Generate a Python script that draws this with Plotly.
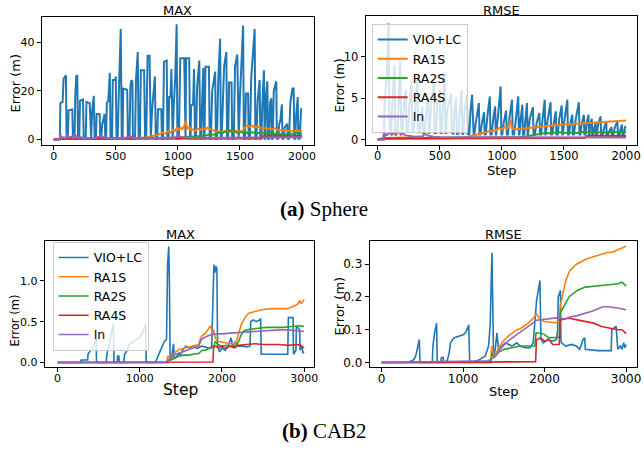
import plotly.graph_objects as go

# ---------------- data: (step, error) pairs ----------------
series_names = ["VIO+LC", "RA1S", "RA2S", "RA4S", "In"]
series_colors = ["#1f77b4", "#ff7f0e", "#2ca02c", "#d62728", "#9467bd"]

sphere_max_vio = [
    (0, 0), (50, 0), (54, 15), (72, 15.5), (80, 25), (99, 26.5), (104, 0.3),
    (114, 0.3), (120, 12), (150, 12.4), (155, 0.3),
    (168, 0.3), (174, 18), (182, 26), (190, 26.5), (196, 0.3),
    (206, 0.3), (212, 16), (236, 16.5), (242, 0.3),
    (258, 0.3), (264, 15.5), (290, 15), (297, 0.3),
    (302, 0.3), (310, 12), (323, 18), (330, 0.3),
    (340, 0.3), (346, 10.5), (370, 10.5), (375, 0.3),
    (382, 0.3), (390, 6), (410, 10.5), (416, 0.3),
    (422, 0.3), (428, 15), (440, 16), (452, 27.5), (458, 0.3),
    (470, 0.3), (476, 24.5), (495, 24.5), (500, 26), (506, 0.3),
    (515, 0.3), (525, 20), (540, 45.5), (548, 0.3),
    (555, 0.3), (560, 21), (592, 20.5), (598, 0.3),
    (610, 0.3), (618, 22), (626, 24.5), (634, 24), (638, 0.3),
    (655, 0.3), (663, 25), (677, 36), (684, 0.3),
    (694, 0.3), (702, 28.5), (728, 28.5), (736, 0.3),
    (745, 0.3), (752, 30), (756, 34.5), (772, 34.5), (777, 0.3),
    (782, 0.3), (792, 12), (815, 26), (822, 0.3),
    (834, 0.3), (840, 12.5), (866, 12.5), (872, 0.3),
    (880, 0.3), (888, 32), (910, 32.5), (916, 0.3),
    (924, 0.3), (930, 17.5), (940, 17.5), (948, 29), (953, 0.3),
    (958, 0.3), (966, 13), (978, 25), (990, 47.5), (996, 0.3),
    (1008, 0.3), (1019, 33.5), (1051, 33.5), (1058, 0.3),
    (1062, 0.3), (1066, 33.5), (1091, 33.5), (1098, 0.3),
    (1102, 0.3), (1106, 14), (1122, 14.3), (1130, 29), (1138, 0.3),
    (1146, 0.3), (1155, 22), (1165, 28), (1172, 32.5), (1180, 0.3),
    (1188, 0.3), (1196, 18), (1205, 29.5), (1210, 0.3),
    (1214, 0.3), (1222, 30), (1250, 30), (1256, 0.3),
    (1266, 0.3), (1276, 20), (1300, 28), (1306, 0.3),
    (1315, 0.3), (1325, 25), (1340, 41.5), (1346, 0.3),
    (1352, 0.3), (1362, 15), (1372, 30), (1390, 36), (1396, 0.3),
    (1405, 0.3), (1412, 23.5), (1432, 23.5), (1437, 0.3),
    (1450, 0.3), (1460, 30), (1478, 35), (1484, 0.3),
    (1490, 0.3), (1500, 18), (1525, 47), (1531, 0.3),
    (1540, 0.3), (1548, 19), (1565, 19), (1570, 0.3),
    (1580, 0.3), (1590, 25), (1618, 45.5), (1624, 0.3),
    (1632, 0.3), (1642, 16), (1658, 24.5), (1664, 0.3),
    (1672, 0.3), (1680, 15), (1693, 28.5), (1698, 0.3),
    (1704, 0.3), (1710, 18), (1720, 24), (1726, 0.3),
    (1735, 0.3), (1742, 15), (1752, 17), (1757, 0.3),
    (1764, 0.3), (1772, 20), (1792, 24), (1797, 0.3),
    (1808, 0.3), (1815, 6), (1825, 8), (1837, 14.5), (1842, 0.3),
    (1850, 0.3), (1860, 5), (1880, 6.5), (1885, 0.3),
    (1895, 0.3), (1905, 15), (1922, 21), (1932, 21), (1937, 0.3),
    (1945, 0.3), (1952, 10), (1965, 17.5), (1970, 0.3),
    (1980, 0.3), (1992, 12.5), (2000, 12.5),
]
sphere_max_ra1s = [
    (0, 0), (50, 0.2), (100, 0.5), (200, 0.5), (300, 0.4), (400, 0.4), (500, 0.4),
    (600, 0.5), (700, 0.6), (750, 0.8), (775, 1.2), (800, 1.5), (825, 1.8), (850, 2.2),
    (875, 2.8), (900, 2.5), (925, 3.5), (940, 2.8), (960, 4.0), (975, 3.5), (990, 4.8),
    (1005, 3.8), (1020, 5.0), (1035, 4.2), (1050, 5.5), (1065, 7.5), (1075, 4.5),
    (1090, 5.0), (1105, 3.8), (1120, 4.2), (1140, 3.6), (1160, 4.5), (1180, 4.0),
    (1200, 4.8), (1220, 4.2), (1240, 5.0), (1260, 4.3), (1280, 4.0), (1300, 3.2),
    (1320, 3.5), (1340, 3.0), (1360, 3.4), (1380, 3.1), (1400, 3.6), (1420, 3.2),
    (1440, 3.4), (1460, 3.0), (1480, 3.6), (1500, 3.3), (1520, 3.5), (1540, 5.0),
    (1560, 5.8), (1580, 5.2), (1600, 5.6), (1620, 5.0), (1640, 5.4), (1660, 5.0),
    (1680, 4.5), (1700, 4.8), (1720, 4.3), (1740, 4.6), (1760, 4.2), (1780, 4.6),
    (1800, 4.0), (1820, 3.8), (1840, 3.6), (1860, 3.9), (1880, 3.5), (1900, 3.7),
    (1920, 3.4), (1940, 3.6), (1960, 3.5), (1980, 3.6), (2000, 3.6),
]
sphere_max_ra2s = [
    (0, 0), (50, 0.3), (200, 0.4), (400, 0.4), (600, 0.5), (800, 0.6), (1000, 0.8),
    (1100, 1.0), (1150, 1.2), (1200, 1.5), (1230, 1.8), (1260, 2.2), (1290, 2.0),
    (1320, 2.5), (1340, 3.0), (1360, 2.6), (1380, 3.5), (1400, 2.8), (1420, 3.8),
    (1440, 3.0), (1460, 3.5), (1480, 2.6), (1500, 3.2), (1520, 2.8), (1540, 3.4),
    (1560, 2.6), (1580, 3.2), (1600, 2.8), (1620, 3.0), (1640, 2.5), (1660, 2.9),
    (1680, 2.6), (1700, 2.8), (1720, 2.4), (1740, 2.9), (1760, 2.6), (1780, 2.3),
    (1800, 2.6), (1820, 2.2), (1840, 2.4), (1860, 2.0), (1880, 2.3), (1900, 2.6),
    (1920, 2.2), (1940, 2.5), (1960, 2.7), (1980, 2.4), (2000, 2.5),
]
sphere_max_ra4s = [
    (0, 0), (50, 0.2), (500, 0.3), (1000, 0.3), (1500, 0.3), (1670, 0.4), (1680, 1.2),
    (1700, 1.6), (1720, 1.3), (1740, 1.8), (1760, 1.2), (1780, 1.5), (1800, 1.3),
    (1820, 1.6), (1840, 1.2), (1860, 1.4), (1880, 1.3), (1900, 1.6), (1920, 1.3),
    (1940, 1.4), (1960, 1.5), (1980, 1.4), (2000, 1.4),
]
sphere_max_in = [
    (0, 0), (45, 0), (55, 2.0), (65, 0.6), (80, 1.0), (95, 0.5), (110, 2.0), (125, 0.8),
    (140, 1.2), (155, 0.6), (170, 2.2), (185, 1.0), (200, 0.7), (220, 1.0), (240, 0.5),
    (260, 0.6), (300, 0.5), (340, 0.7), (370, 1.2), (385, 1.6), (400, 0.9), (430, 0.6),
    (480, 0.5), (520, 0.5), (560, 0.6), (600, 0.9), (620, 1.3), (640, 0.7), (700, 0.5),
    (800, 0.5), (900, 0.6), (980, 0.8), (1000, 1.6), (1020, 1.2), (1060, 0.8),
    (1200, 0.7), (1400, 0.7), (1600, 0.8), (1800, 0.9), (2000, 0.9),
]

sphere_rmse_vio = [
    (0, 0), (50, 0), (55, 4), (75, 8), (88, 14), (95, 2), (105, 1),
    (110, 1), (120, 5), (135, 9), (142, 1),
    (160, 1), (170, 5), (180, 9.5), (190, 1.5),
    (200, 1), (215, 5), (228, 6), (232, 1),
    (245, 1), (255, 4), (272, 7), (280, 1),
    (290, 1), (305, 4), (320, 7.5), (325, 1),
    (338, 0.8), (350, 3), (360, 4), (364, 0.8),
    (376, 0.8), (390, 3), (408, 5), (412, 0.8),
    (416, 0.8), (430, 4), (453, 7), (458, 0.8),
    (470, 0.8), (480, 4.5), (500, 6), (506, 0.8),
    (515, 0.8), (525, 4), (540, 8), (545, 0.8),
    (550, 0.8), (560, 3.5), (592, 5.5), (597, 0.8),
    (610, 0.7), (620, 3.5), (632, 5), (638, 0.7),
    (650, 0.7), (662, 3.5), (676, 6), (682, 0.7),
    (690, 0.7), (700, 3.5), (718, 5.5), (724, 0.7),
    (738, 0.6), (748, 3.5), (760, 5.4), (773, 0.6),
    (778, 0.6), (790, 2), (815, 4.4), (820, 0.6),
    (826, 0.6), (840, 2), (857, 3.3), (862, 0.6),
    (870, 0.6), (885, 3), (903, 5.2), (908, 0.6),
    (918, 0.6), (930, 2.5), (946, 4), (951, 0.6),
    (955, 0.6), (970, 3), (990, 6.4), (996, 0.6),
    (1003, 0.6), (1015, 2), (1034, 3.5), (1040, 0.6),
    (1049, 0.6), (1060, 2.5), (1082, 4.8), (1087, 0.6),
    (1098, 0.6), (1110, 2), (1132, 5.2), (1137, 0.6),
    (1142, 0.6), (1152, 2.5), (1165, 4.2), (1170, 0.6),
    (1180, 0.6), (1190, 2.5), (1202, 4.4), (1207, 0.6),
    (1210, 0.6), (1225, 2.5), (1250, 3.9), (1255, 0.6),
    (1265, 0.6), (1280, 2), (1302, 3.2), (1307, 0.6),
    (1315, 0.6), (1328, 2.5), (1345, 4.8), (1350, 0.6),
    (1352, 0.6), (1370, 2.5), (1392, 4.5), (1397, 0.6),
    (1405, 0.6), (1418, 2), (1434, 3.4), (1439, 0.6),
    (1450, 0.6), (1462, 2.5), (1482, 4.1), (1487, 0.6),
    (1490, 0.6), (1505, 2.5), (1527, 4.8), (1532, 0.6),
    (1540, 0.6), (1552, 2), (1567, 3), (1572, 0.6),
    (1580, 0.6), (1595, 2.5), (1620, 4.5), (1625, 0.6),
    (1632, 0.6), (1645, 2), (1660, 3), (1665, 0.6),
    (1672, 0.6), (1683, 2), (1697, 3), (1701, 0.6),
    (1704, 0.6), (1712, 1.8), (1724, 2.5), (1728, 0.6),
    (1735, 0.5), (1745, 1.5), (1755, 2), (1759, 0.5),
    (1764, 0.5), (1775, 1.8), (1795, 2.8), (1799, 0.5),
    (1808, 0.5), (1820, 1.2), (1840, 2.2), (1844, 0.5),
    (1850, 0.5), (1865, 1), (1882, 1.5), (1887, 0.5),
    (1895, 0.5), (1910, 1.5), (1930, 2.2), (1935, 0.5),
    (1945, 0.5), (1955, 1.2), (1967, 1.8), (1971, 0.5),
    (1980, 0.5), (1992, 1.5), (2000, 1.6),
]
sphere_rmse_ra1s = [
    (0, 0), (50, 0.2), (200, 0.25), (400, 0.2), (600, 0.2), (700, 0.25), (750, 0.4),
    (800, 0.6), (850, 0.8), (900, 1.0), (950, 1.1), (980, 1.4), (1000, 1.2), (1020, 1.5),
    (1040, 1.3), (1060, 1.8), (1070, 2.4), (1080, 1.4), (1100, 1.2), (1150, 1.25),
    (1200, 1.35), (1250, 1.45), (1300, 1.55), (1350, 1.6), (1400, 1.7), (1450, 1.75),
    (1500, 1.8), (1550, 1.85), (1600, 1.9), (1650, 1.95), (1700, 2.0), (1750, 2.02),
    (1800, 2.08), (1850, 2.12), (1900, 2.18), (1950, 2.25), (2000, 2.3),
]
sphere_rmse_ra2s = [
    (0, 0), (50, 0.15), (500, 0.2), (1000, 0.25), (1150, 0.3), (1200, 0.4), (1250, 0.55),
    (1300, 0.7), (1350, 0.8), (1400, 0.75), (1450, 0.9), (1500, 0.8), (1550, 0.85),
    (1600, 0.8), (1650, 0.9), (1700, 0.85), (1750, 0.9), (1800, 0.85), (1850, 0.9),
    (1900, 0.88), (1950, 0.9), (2000, 0.9),
]
sphere_rmse_ra4s = [
    (0, 0), (50, 0.1), (1000, 0.15), (1670, 0.2), (1680, 0.4), (1720, 0.45),
    (1800, 0.45), (1900, 0.42), (2000, 0.42),
]
sphere_rmse_in = [
    (0, 0), (45, 0), (52, 1.3), (65, 0.5), (80, 0.6), (100, 0.9), (115, 0.5), (130, 1.0),
    (145, 0.5), (170, 1.1), (185, 0.6), (200, 0.7), (230, 0.5), (260, 0.4), (300, 0.35),
    (360, 0.4), (385, 0.7), (400, 0.5), (450, 0.35), (500, 0.3), (600, 0.3), (800, 0.25),
    (1000, 0.25), (1500, 0.25), (2000, 0.25),
]

cab2_max_vio = [
    (0, 0), (280, 0), (285, 0.03), (365, 0.03), (370, 0.1), (395, 0.14), (420, 0.17),
    (445, 0.22), (462, 0.28), (470, 0.28), (473, 0),
    (590, 0), (600, 0.1), (625, 0.22), (655, 0.35), (678, 0.47), (686, 0),
    (725, 0), (730, 0.08), (745, 0.08), (750, 0),
    (805, 0), (815, 0.1), (848, 0.15), (870, 0.22), (910, 0.25), (950, 0.28), (990, 0.3),
    (1040, 0.38), (1070, 0.47), (1078, 0),
    (1190, 0), (1210, 0.05), (1231, 0.1), (1272, 0.2), (1300, 0.26), (1325, 0.28),
    (1338, 1.2), (1352, 1.42), (1360, 1.0), (1369, 0.02), (1385, 0.05), (1393, 0.1),
    (1410, 0.23), (1420, 0.05), (1440, 0.06), (1474, 0.12), (1490, 0.08), (1520, 0.15),
    (1560, 0.2), (1600, 0.18), (1650, 0.2), (1700, 0.17), (1750, 0.2), (1800, 0.19),
    (1850, 0.17), (1875, 0.2), (1890, 0.8), (1902, 1.2), (1915, 1.1), (1925, 1.18),
    (1938, 1.15), (1946, 0.2), (1970, 0.13), (2000, 0.18), (2040, 0.15), (2080, 0.22),
    (2110, 0.3), (2130, 0.2), (2160, 0.25), (2200, 0.2), (2260, 0.2), (2300, 0.19),
    (2340, 0.2), (2350, 0.5), (2380, 0.52), (2420, 0.5), (2470, 0.53), (2478, 0.1),
    (2500, 0.1), (2600, 0.1), (2700, 0.1), (2800, 0.1), (2808, 0.55), (2865, 0.55),
    (2870, 0.1), (2900, 0.15), (2905, 0.45), (2945, 0.4), (2950, 0.15), (2970, 0.2),
    (2985, 0.12), (3000, 0.13),
]
cab2_max_ra1s = [
    (0, 0), (1330, 0), (1340, 0.08), (1360, 0.05), (1400, 0.08), (1434, 0.13),
    (1480, 0.16), (1555, 0.18), (1640, 0.2), (1716, 0.22), (1740, 0.3), (1760, 0.33),
    (1800, 0.36), (1840, 0.42), (1860, 0.45), (1880, 0.38), (1900, 0.4), (1917, 0.3),
    (1950, 0.26), (2000, 0.25), (2050, 0.24), (2100, 0.23), (2150, 0.23), (2180, 0.27),
    (2200, 0.35), (2240, 0.48), (2280, 0.55), (2321, 0.6), (2380, 0.62), (2442, 0.64),
    (2500, 0.65), (2600, 0.66), (2700, 0.66), (2805, 0.66), (2846, 0.68), (2900, 0.7),
    (2926, 0.72), (2946, 0.76), (2960, 0.72), (2980, 0.74), (3000, 0.77),
]
cab2_max_ra2s = [
    (0, 0), (1340, 0), (1350, 0.03), (1374, 0.03), (1420, 0.05), (1480, 0.08),
    (1535, 0.09), (1600, 0.09), (1650, 0.1), (1716, 0.11), (1760, 0.15), (1797, 0.15),
    (1837, 0.17), (1877, 0.18), (1900, 0.2), (1920, 0.26), (1950, 0.22), (2000, 0.2),
    (2050, 0.21), (2100, 0.2), (2160, 0.2), (2200, 0.25), (2230, 0.33), (2260, 0.38),
    (2300, 0.4), (2350, 0.41), (2442, 0.42), (2550, 0.43), (2650, 0.43), (2750, 0.43),
    (2850, 0.44), (2950, 0.45), (3000, 0.44),
]
cab2_max_ra4s = [
    (0, 0), (1890, 0.005), (1898, 0.19), (1920, 0.2), (1960, 0.18), (2000, 0.2),
    (2050, 0.17), (2100, 0.2), (2150, 0.18), (2200, 0.21), (2300, 0.22), (2400, 0.23),
    (2500, 0.22), (2600, 0.22), (2700, 0.22), (2800, 0.21), (2900, 0.22), (2950, 0.22),
    (2980, 0.19), (3000, 0.18),
]
cab2_max_in = [
    (0, 0), (1300, 0), (1354, 0.03), (1434, 0.1), (1500, 0.12), (1595, 0.16),
    (1716, 0.2), (1750, 0.28), (1776, 0.3), (1837, 0.33), (1917, 0.35), (2000, 0.35),
    (2100, 0.36), (2240, 0.37), (2400, 0.38), (2563, 0.39), (2700, 0.4), (2800, 0.4),
    (2946, 0.38), (3000, 0.38),
]

cab2_rmse_vio = [
    (0, 0), (297, 0), (378, 0.005), (398, 0.01), (419, 0.02), (440, 0.04), (463, 0.07),
    (471, 0),
    (622, 0), (630, 0.05), (650, 0.09), (675, 0.12), (683, 0),
    (724, 0), (735, 0.015), (756, 0.015), (760, 0),
    (805, 0.005), (830, 0.03), (846, 0.06), (886, 0.075), (947, 0.08), (1008, 0.085),
    (1040, 0.095), (1069, 0.115), (1081, 0),
    (1171, 0.005), (1211, 0.01), (1272, 0.02), (1313, 0.05), (1333, 0.12), (1354, 0.335),
    (1374, 0.02), (1395, 0.04), (1415, 0.09), (1435, 0.04), (1476, 0.05), (1520, 0.06),
    (1560, 0.055), (1600, 0.05), (1659, 0.06), (1700, 0.05), (1760, 0.045), (1821, 0.045),
    (1860, 0.06), (1882, 0.12), (1902, 0.19), (1923, 0.22), (1943, 0.25), (1955, 0.07),
    (1984, 0.06), (2040, 0.07), (2100, 0.065), (2146, 0.07), (2160, 0.1), (2167, 0.2),
    (2195, 0.22), (2200, 0.07), (2207, 0.06), (2260, 0.05), (2330, 0.055), (2390, 0.05),
    (2431, 0.04), (2472, 0.07), (2492, 0.075), (2500, 0.04), (2560, 0.038), (2650, 0.036),
    (2750, 0.036), (2817, 0.036), (2825, 0.1), (2860, 0.105), (2878, 0.11), (2898, 0.04),
    (2930, 0.05), (2950, 0.04), (2970, 0.06), (2985, 0.045), (3000, 0.055),
]
cab2_rmse_ra1s = [
    (0, 0), (1340, 0), (1350, 0.05), (1380, 0.02), (1430, 0.04), (1476, 0.06),
    (1550, 0.08), (1659, 0.1), (1700, 0.103), (1800, 0.12), (1880, 0.14), (1900, 0.15),
    (1920, 0.14), (1950, 0.13), (2000, 0.125), (2100, 0.122), (2180, 0.12), (2190, 0.17),
    (2228, 0.215), (2260, 0.25), (2309, 0.28), (2390, 0.3), (2512, 0.316), (2634, 0.326),
    (2756, 0.335), (2837, 0.337), (2919, 0.345), (3000, 0.355),
]
cab2_rmse_ra2s = [
    (0, 0), (1340, 0), (1354, 0.03), (1380, 0.015), (1430, 0.03), (1500, 0.04),
    (1600, 0.045), (1700, 0.05), (1880, 0.05), (1895, 0.09), (1950, 0.09), (2000, 0.085),
    (2050, 0.075), (2180, 0.077), (2190, 0.15), (2250, 0.18), (2300, 0.2), (2400, 0.22),
    (2500, 0.23), (2700, 0.235), (2900, 0.24), (2950, 0.245), (3000, 0.233),
]
cab2_rmse_ra4s = [
    (0, 0), (1890, 0.002), (1900, 0.07), (1950, 0.075), (2000, 0.065), (2050, 0.07),
    (2100, 0.055), (2180, 0.055), (2190, 0.13), (2300, 0.135), (2400, 0.13),
    (2500, 0.125), (2600, 0.12), (2700, 0.11), (2800, 0.105), (2900, 0.1), (2950, 0.1),
    (3000, 0.088),
]
cab2_rmse_in = [
    (0, 0), (1300, 0.005), (1350, 0.01), (1400, 0.02), (1450, 0.04), (1496, 0.053),
    (1550, 0.065), (1659, 0.085), (1750, 0.1), (1821, 0.114), (1902, 0.129),
    (2000, 0.132), (2065, 0.134), (2146, 0.136), (2250, 0.133), (2309, 0.139),
    (2400, 0.143), (2472, 0.149), (2600, 0.158), (2715, 0.17), (2780, 0.17),
    (2900, 0.166), (3000, 0.161),
]

panel_titles = ["MAX", "RMSE", "MAX", "RMSE"]
captions = ["<b>(a)</b> Sphere", "<b>(b)</b> CAB2"]
sphere_xticks = [0, 500, 1000, 1500, 2000]
cab2_xticks = [0, 1000, 2000, 3000]
ticks_tl = [0, 20, 40]
ticks_tr = [0, 5, 10]
ticks_bl = [0.0, 0.5, 1.0]
ticks_bl_text = ["0.0", "0.5", "1.0"]
ticks_br = [0.0, 0.1, 0.2, 0.3]
ticks_br_text = ["0.0", "0.1", "0.2", "0.3"]

panels = [
    [sphere_max_vio, sphere_max_ra1s, sphere_max_ra2s, sphere_max_ra4s, sphere_max_in],
    [sphere_rmse_vio, sphere_rmse_ra1s, sphere_rmse_ra2s, sphere_rmse_ra4s, sphere_rmse_in],
    [cab2_max_vio, cab2_max_ra1s, cab2_max_ra2s, cab2_max_ra4s, cab2_max_in],
    [cab2_rmse_vio, cab2_rmse_ra1s, cab2_rmse_ra2s, cab2_rmse_ra4s, cab2_rmse_in],
]

# ---------------- figure ----------------
W, H = 644, 450
FONT = "DejaVu Sans"


def px_x(v):
    return v / W


def px_y(v):
    return 1 - v / H


fig = go.Figure()
axis_ids = [("x", "y"), ("x2", "y2"), ("x3", "y3"), ("x4", "y4")]
legend_of_panel = {1: "legend", 2: "legend2"}
line_widths = [2.0, 2.0, 1.6, 1.6]

for p, series in enumerate(panels):
    xa, ya = axis_ids[p]
    for s, pairs in enumerate(series):
        fig.add_trace(go.Scatter(
            x=[a for a, _ in pairs], y=[b for _, b in pairs], mode="lines",
            name=series_names[s],
            line=dict(color=series_colors[s], width=line_widths[p]),
            xaxis=xa, yaxis=ya,
            showlegend=p in legend_of_panel,
            legend=legend_of_panel.get(p, "legend"),
            hoverinfo="skip",
        ))

common = dict(showline=True, mirror=True, linecolor="#000000", linewidth=1,
              ticks="outside", ticklen=4, tickwidth=1, tickcolor="#000000",
              showgrid=False, zeroline=False, color="#000000")
xcommon = dict(common, ticklabelstandoff=-4)

fig.update_layout(
    width=W, height=H, margin=dict(l=0, r=0, t=0, b=0),
    paper_bgcolor="white", plot_bgcolor="white",
    font=dict(family=FONT, color="#000000"),
    xaxis=dict(domain=[px_x(42), px_x(316)], anchor="y", range=[-96, 2096],
               tickvals=sphere_xticks, tickfont=dict(size=11), **xcommon),
    yaxis=dict(domain=[px_y(146), px_y(17)], anchor="x", range=[-2.4, 50.5],
               tickvals=ticks_tl, tickfont=dict(size=11), **common),
    xaxis2=dict(domain=[px_x(368), px_x(641)], anchor="y2", range=[-96, 2088],
                tickvals=sphere_xticks, tickfont=dict(size=11.5), **xcommon),
    yaxis2=dict(domain=[px_y(146), px_y(16)], anchor="x2", range=[-0.7, 14.9],
                tickvals=ticks_tr, tickfont=dict(size=11.5), **common),
    xaxis3=dict(domain=[px_x(45), px_x(316)], anchor="y3", range=[-157, 3120],
                tickvals=cab2_xticks, tickfont=dict(size=11), **xcommon),
    yaxis3=dict(domain=[px_y(369), px_y(242)], anchor="x3", range=[-0.06, 1.49],
                tickvals=ticks_bl, ticktext=ticks_bl_text, tickfont=dict(size=11), **common),
    xaxis4=dict(domain=[px_x(372), px_x(641)], anchor="y4", range=[-146, 3134],
                tickvals=cab2_xticks, tickfont=dict(size=12), **xcommon),
    yaxis4=dict(domain=[px_y(369), px_y(242)], anchor="x4", range=[-0.015, 0.371],
                tickvals=ticks_br, ticktext=ticks_br_text, tickfont=dict(size=12), **common),
    legend=dict(x=px_x(374), y=px_y(24), xanchor="left", yanchor="top",
                bgcolor="rgba(255,255,255,0.8)", bordercolor="#cccccc", borderwidth=1,
                font=dict(size=12.5, family=FONT), tracegroupgap=0, itemwidth=30),
    legend2=dict(x=px_x(53), y=px_y(243), xanchor="left", yanchor="top",
                 bgcolor="rgba(255,255,255,0.8)", bordercolor="#cccccc", borderwidth=1,
                 font=dict(size=12.5, family=FONT), tracegroupgap=0, itemwidth=30),
)

ann = []
# panel titles
for (cx, cy), t in zip([(179, 11), (505, 11), (182, 236), (507, 236)], panel_titles):
    ann.append(dict(x=px_x(cx), y=px_y(cy), xref="paper", yref="paper", text=t,
                    showarrow=False, font=dict(size=13, family=FONT),
                    xanchor="center", yanchor="middle"))
# x-axis titles
for (cx, cy, fs) in [(179, 172, 14), (505, 171, 13), (182, 392, 15.5), (507, 393, 13)]:
    ann.append(dict(x=px_x(cx), y=px_y(cy), xref="paper", yref="paper", text="Step",
                    showarrow=False, font=dict(size=fs, family=FONT),
                    xanchor="center", yanchor="middle"))
# y-axis titles
for (cx, cy, fs) in [(16, 83, 13), (342, 86, 12), (15, 322, 11.5), (342, 307, 13)]:
    ann.append(dict(x=px_x(cx), y=px_y(cy), xref="paper", yref="paper", text="Error (m)",
                    showarrow=False, textangle=-90, font=dict(size=fs, family=FONT),
                    xanchor="center", yanchor="middle"))
# captions
for (cx, cy), t in zip([(326, 210), (327, 433)], captions):
    ann.append(dict(x=px_x(cx), y=px_y(cy), xref="paper", yref="paper", text=t,
                    showarrow=False, font=dict(size=21, family="Liberation Serif"),
                    xanchor="center", yanchor="middle"))
fig.update_layout(annotations=ann)

fig.write_html(
    "out.html",
    config={"displayModeBar": False},
    post_script="document.body.style.margin='0';document.body.style.padding='0';"
                "document.body.style.overflow='hidden';",
)
